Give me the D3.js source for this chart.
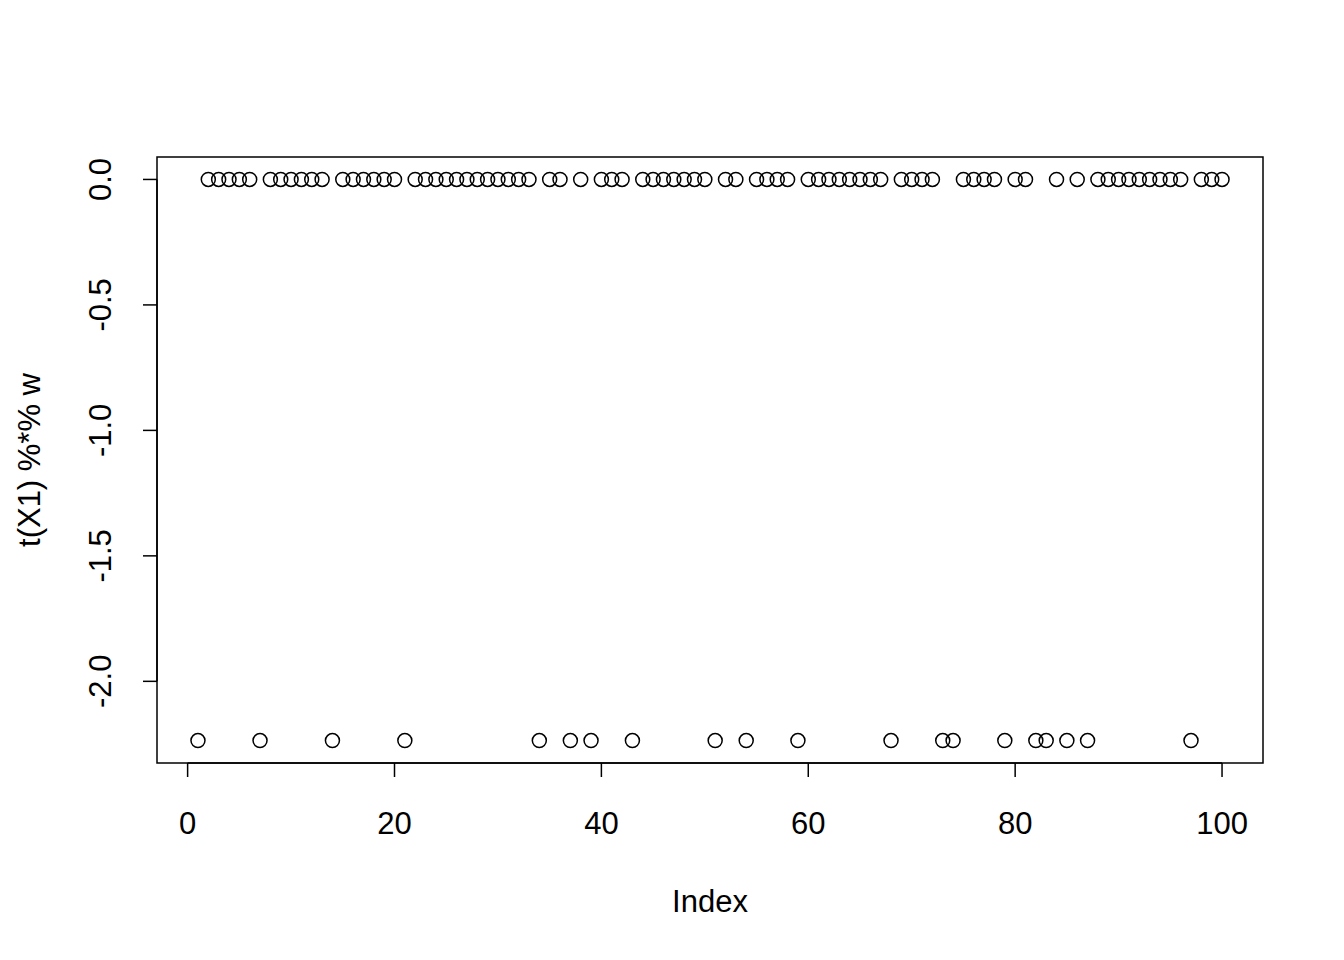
<!DOCTYPE html>
<html><head><meta charset="utf-8">
<script src="https://cdn.jsdelivr.net/npm/d3@7"></script>
<style>body{margin:0;background:#fff}svg{display:block}text{font-family:"Liberation Sans",Arial,Helvetica,sans-serif}</style>
</head><body>
<svg id="c" width="1344" height="960"></svg>
<script>
const lowIndices = [1,7,14,21,34,37,39,43,51,54,59,68,73,74,79,82,83,85,87,97];
const lowValue = -2.236;
const highValue = 0;
const indices = d3.range(1, 101);
const values = indices.map(i => lowIndices.includes(i) ? lowValue : highValue);
const xTicks = [0,20,40,60,80,100];
const yTicks = [0,-0.5,-1,-1.5,-2];
const yTickLabels = ["0.0","-0.5","-1.0","-1.5","-2.0"];
const xLabel = "Index";
const yLabel = "t(X1) %*% w";

const svg = d3.select("#c");
const L=157, R=1263, T=157, B=763;
const FS = 31;
const xr = [1,100], xe = (xr[1]-xr[0])*0.04;
const yr = d3.extent(values), ye = (yr[1]-yr[0])*0.04;
const x = d3.scaleLinear().domain([xr[0]-xe, xr[1]+xe]).range([L,R]);
const y = d3.scaleLinear().domain([yr[0]-ye, yr[1]+ye]).range([B,T]);

svg.append("rect").attr("x",L).attr("y",T).attr("width",R-L).attr("height",B-T)
  .attr("fill","none").attr("stroke","#000").attr("stroke-width",1.5);

// x axis
const gx = svg.append("g");
gx.append("line").attr("x1",x(0)).attr("x2",x(100)).attr("y1",B).attr("y2",B).attr("stroke","#000").attr("stroke-width",1.5);
xTicks.forEach(t=>{
  gx.append("line").attr("x1",x(t)).attr("x2",x(t)).attr("y1",B).attr("y2",B+14).attr("stroke","#000").attr("stroke-width",1.5);
  gx.append("text").attr("x",x(t)).attr("y",834).attr("text-anchor","middle").attr("font-size",FS).text(t);
});
// y axis
const gy = svg.append("g");
gy.append("line").attr("x1",L).attr("x2",L).attr("y1",y(0)).attr("y2",y(-2)).attr("stroke","#000").attr("stroke-width",1.5);
yTicks.forEach((t,i)=>{
  gy.append("line").attr("x1",L-14).attr("x2",L).attr("y1",y(t)).attr("y2",y(t)).attr("stroke","#000").attr("stroke-width",1.5);
  gy.append("text").attr("transform",`translate(111,${y(t)}) rotate(-90)`).attr("text-anchor","middle").attr("font-size",FS).text(yTickLabels[i]);
});
svg.append("text").attr("x",(L+R)/2).attr("y",912).attr("text-anchor","middle").attr("font-size",FS).text(xLabel);
svg.append("text").attr("transform",`translate(40,${(T+B)/2}) rotate(-90)`).attr("text-anchor","middle").attr("font-size",FS).text(yLabel);

svg.append("g").selectAll("circle").data(indices).join("circle")
  .attr("cx",d=>x(d)).attr("cy",(d,i)=>y(values[i])).attr("r",7)
  .attr("fill","none").attr("stroke","#000").attr("stroke-width",1.5);
</script>
</body></html>
